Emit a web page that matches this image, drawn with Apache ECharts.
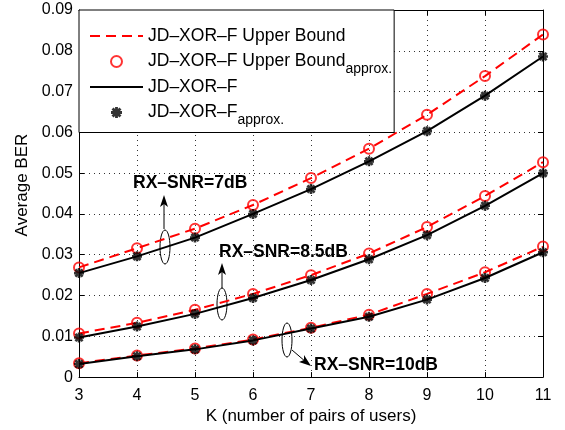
<!DOCTYPE html>
<html><head><meta charset="utf-8">
<script src="https://cdn.jsdelivr.net/npm/echarts@6/dist/echarts.min.js"></script>
<style>html,body{margin:0;padding:0;background:#fff}#c{width:565px;height:430px}</style>
</head><body><div id="c"></div>
<script>
const K = [3, 4, 5, 6, 7, 8, 9, 10, 11];
const xTicks = [3, 4, 5, 6, 7, 8, 9, 10, 11];
const yTicks = [0, 0.01, 0.02, 0.03, 0.04, 0.05, 0.06, 0.07, 0.08, 0.09];
// RX-SNR = 7 dB
const ub7  = [0.0269, 0.0316, 0.0364, 0.0422, 0.0488, 0.0560, 0.0643, 0.0738, 0.0840];
const ex7  = [0.0255, 0.0296, 0.0342, 0.0400, 0.0461, 0.0529, 0.0603, 0.0690, 0.0786];
// RX-SNR = 8.5 dB
const ub85 = [0.0107, 0.0133, 0.0165, 0.0204, 0.0250, 0.0303, 0.0368, 0.0444, 0.0527];
const ex85 = [0.0097, 0.0124, 0.0155, 0.0194, 0.0238, 0.0289, 0.0348, 0.0420, 0.0500];
// RX-SNR = 10 dB
const ub10 = [0.0034, 0.0053, 0.0070, 0.0092, 0.0121, 0.0153, 0.0204, 0.0257, 0.0320];
const ex10 = [0.0032, 0.0051, 0.0068, 0.0090, 0.0119, 0.0148, 0.0190, 0.0243, 0.0306];

const FONT = '"Liberation Sans", Arial, Helvetica, sans-serif';
const STAR = 'path://M-1.3,-5 L1.3,-5 L1.3,5 L-1.3,5 Z M-5,-1.3 L5,-1.3 L5,1.3 L-5,1.3 Z M-4.52,-2.68 L-2.68,-4.52 L4.52,2.68 L2.68,4.52 Z M2.68,-4.52 L4.52,-2.68 L-2.68,4.52 L-4.52,2.68 Z';

function pts(arr){ return K.map((k,i)=>[k, arr[i]]); }

const series = [];
[[ub7, ex7],[ub85, ex85],[ub10, ex10]].forEach(([ub, ex])=>{
  series.push({name:'ub', type:'line', data:pts(ub), symbol:'none', z:2,
    lineStyle:{color:'#ff0000', width:2, type:[10,6]}, itemStyle:{color:'#ff0000'}});
  series.push({name:'ubA', type:'scatter', data:pts(ub), symbol:'circle', symbolSize:10, z:3,
    itemStyle:{color:'rgba(0,0,0,0)', borderColor:'#ff0000', borderWidth:2}});
  series.push({name:'ex', type:'line', data:pts(ex), symbol:'none', z:4,
    lineStyle:{color:'#000', width:2}, itemStyle:{color:'#000'}});
  series.push({name:'exA', type:'scatter', data:pts(ex), symbol:STAR, symbolSize:10, symbolKeepAspect:true, z:5,
    itemStyle:{color:'#000'}});
});

const labels = {
  ub: '{m|JD–XOR–F Upper Bound}{s| }',
  ubA: '{m|JD–XOR–F Upper Bound}{s|approx.}',
  ex: '{m|JD–XOR–F}{s| }',
  exA: '{m|JD–XOR–F}{s|approx.}'
};
const hidden = {color:'rgba(0,0,0,0)', borderColor:'rgba(0,0,0,0)', borderWidth:0};

const chart = echarts.init(document.getElementById('c'), null, {renderer:'canvas'});
const axisCommon = {
  axisLine:{show:true, onZero:false, lineStyle:{color:'#000', width:1}},
  axisTick:{show:true, inside:true, length:5, lineStyle:{color:'#000'}},
};
chart.setOption({
  animation:false,
  backgroundColor:'#fff',
  textStyle:{fontFamily:FONT},
  grid:{left:79, right:22, top:10, bottom:49, show:false},
  xAxis:[
    Object.assign({type:'value', min:3, max:11, interval:1, position:'bottom',
      name:'K (number of pairs of users)', nameLocation:'middle', nameGap:20,
      nameTextStyle:{fontSize:17, color:'#000', fontFamily:FONT},
      axisLabel:{fontSize:16, color:'#000', margin:10, fontFamily:FONT,
        formatter:v=> xTicks.includes(v) ? String(v) : ''},
      splitLine:{show:true, lineStyle:{color:'#333', type:[1,4], width:1}}}, axisCommon),
    Object.assign({type:'value', min:3, max:11, interval:1, position:'top',
      axisLabel:{show:false}, splitLine:{show:false}}, axisCommon)
  ],
  yAxis:[
    Object.assign({type:'value', min:0, max:0.09, interval:0.01, position:'left',
      name:'Average BER', nameLocation:'middle', nameGap:44,
      nameTextStyle:{fontSize:17, color:'#000', fontFamily:FONT, padding:[0,0,0,17]},
      axisLabel:{fontSize:16, color:'#000', margin:6, fontFamily:FONT,
        formatter:v=>{ const t = yTicks.find(y=>Math.abs(y-v)<1e-9); return t===undefined?'':String(+t.toFixed(2)); }},
      splitLine:{show:true, lineStyle:{color:'#333', type:[1,4], width:1}}}, axisCommon),
    Object.assign({type:'value', min:0, max:0.09, interval:0.01, position:'right',
      axisLabel:{show:false}, splitLine:{show:false}}, axisCommon)
  ],
  legend:{
    left:79, top:10, orient:'vertical', align:'left',
    backgroundColor:'#fff', borderColor:'#000', borderWidth:1,
    padding:[17,2,5,10], itemGap:1.5, itemWidth:53, itemHeight:11,
    data:[{name:'ub', itemStyle:hidden},{name:'ubA'},{name:'ex', itemStyle:hidden},{name:'exA'}],
    selectedMode:false,
    formatter:n=>labels[n],
    textStyle:{color:'#000', fontFamily:FONT,
      rich:{m:{fontSize:17.5, color:'#000', fontFamily:FONT},
            s:{fontSize:14, color:'#000', fontFamily:FONT, padding:[16,0,0,0]}}}
  },
  series:series,
  graphic:[
    // 7 dB annotation
    {type:'text', left:133, top:174, style:{text:'RX–SNR=7dB', font:'bold 17.5px '+FONT, fill:'#000'}},
    {type:'line', shape:{x1:164, y1:229, x2:164, y2:200}, style:{stroke:'#000', lineWidth:1}},
    {type:'polygon', shape:{points:[[164,195],[160,207],[164,204],[168,207]]}, style:{fill:'#000'}},
    {type:'ellipse', shape:{cx:165, cy:247, rx:5, ry:17}, style:{fill:'none', stroke:'#000', lineWidth:1}},
    // 8.5 dB annotation
    {type:'text', left:219, top:243, style:{text:'RX–SNR=8.5dB', font:'bold 17.5px '+FONT, fill:'#000'}},
    {type:'line', shape:{x1:222, y1:288, x2:222, y2:268}, style:{stroke:'#000', lineWidth:1}},
    {type:'polygon', shape:{points:[[222,263],[218,275],[222,272],[226,275]]}, style:{fill:'#000'}},
    {type:'ellipse', shape:{cx:222, cy:304, rx:5, ry:16}, style:{fill:'none', stroke:'#000', lineWidth:1}},
    // 10 dB annotation
    {type:'text', left:314, top:356, style:{text:'RX–SNR=10dB', font:'bold 17.5px '+FONT, fill:'#000'}},
    {type:'ellipse', shape:{cx:287, cy:340, rx:5, ry:17}, style:{fill:'none', stroke:'#000', lineWidth:1}},
    {type:'line', shape:{x1:292, y1:350, x2:306, y2:362}, style:{stroke:'#000', lineWidth:1}},
    {type:'polygon', shape:{points:[[311,366],[299,362],[304,360],[304,355]]}, style:{fill:'#000'}}
  ]
});
</script></body></html>
